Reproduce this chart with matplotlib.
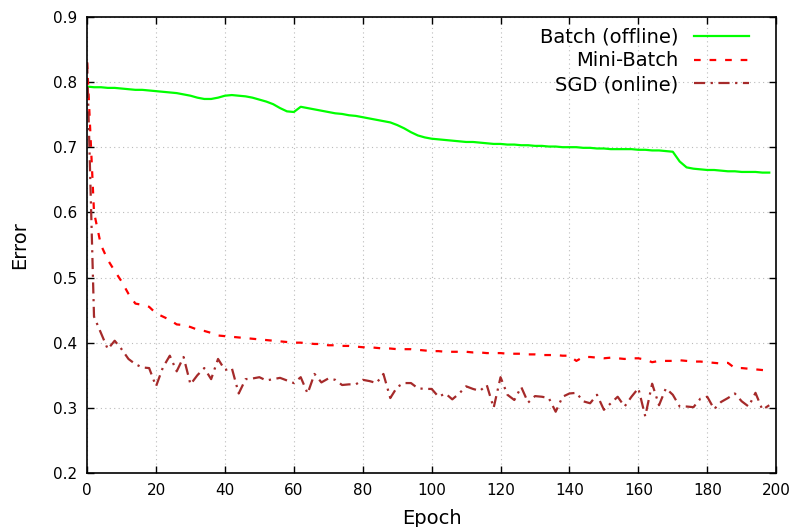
import matplotlib
matplotlib.use("Agg")
import matplotlib.pyplot as plt
import numpy as np

# epochs sampled every 2
epochs = np.arange(0, 200, 2)

batch = [0.793, 0.792, 0.792, 0.791, 0.791, 0.790, 0.789, 0.788, 0.788, 0.787,
         0.786, 0.785, 0.784, 0.783, 0.781, 0.779, 0.776, 0.774, 0.774, 0.776,
         0.779, 0.780, 0.779, 0.778, 0.776, 0.773, 0.770, 0.766, 0.760, 0.755,
         0.754, 0.762, 0.760, 0.758, 0.756, 0.754, 0.752, 0.751, 0.749, 0.748,
         0.746, 0.744, 0.742, 0.740, 0.738, 0.734, 0.729, 0.723, 0.718, 0.715,
         0.713, 0.712, 0.711, 0.710, 0.709, 0.708, 0.708, 0.707, 0.706, 0.705,
         0.705, 0.704, 0.704, 0.703, 0.703, 0.702, 0.702, 0.701, 0.701, 0.700,
         0.700, 0.700, 0.699, 0.699, 0.698, 0.698, 0.697, 0.697, 0.697, 0.697,
         0.696, 0.696, 0.695, 0.695, 0.694, 0.693, 0.678, 0.669, 0.667, 0.666,
         0.665, 0.665, 0.664, 0.663, 0.663, 0.662, 0.662, 0.662, 0.661, 0.661]

minibatch = [0.830, 0.600, 0.550, 0.527, 0.510, 0.494, 0.475, 0.460, 0.458, 0.455,
             0.445, 0.440, 0.435, 0.428, 0.427, 0.424, 0.420, 0.418, 0.415, 0.411,
             0.410, 0.409, 0.408, 0.407, 0.406, 0.405, 0.404, 0.403, 0.402, 0.401,
             0.400, 0.400, 0.399, 0.398, 0.398, 0.396, 0.396, 0.395, 0.395, 0.394,
             0.393, 0.393, 0.392, 0.391, 0.391, 0.390, 0.390, 0.390, 0.389, 0.388,
             0.387, 0.387, 0.386, 0.386, 0.386, 0.386, 0.385, 0.385, 0.384, 0.384,
             0.384, 0.383, 0.383, 0.383, 0.382, 0.382, 0.381, 0.381, 0.381, 0.380,
             0.380, 0.372, 0.378, 0.378, 0.377, 0.376, 0.377, 0.376, 0.375, 0.376,
             0.376, 0.374, 0.370, 0.372, 0.372, 0.372, 0.373, 0.372, 0.371, 0.371,
             0.370, 0.369, 0.368, 0.369, 0.361, 0.361, 0.360, 0.359, 0.358, 0.357]

sgd = [0.830, 0.440, 0.415, 0.390, 0.403, 0.390, 0.375, 0.367, 0.362, 0.361,
       0.333, 0.362, 0.380, 0.356, 0.378, 0.336, 0.350, 0.361, 0.344, 0.375,
       0.358, 0.361, 0.322, 0.344, 0.345, 0.347, 0.342, 0.344, 0.346, 0.342,
       0.338, 0.347, 0.322, 0.352, 0.339, 0.345, 0.343, 0.335, 0.336, 0.336,
       0.343, 0.341, 0.338, 0.352, 0.315, 0.332, 0.338, 0.338, 0.330, 0.329,
       0.329, 0.317, 0.322, 0.313, 0.322, 0.333, 0.329, 0.326, 0.335, 0.300,
       0.347, 0.320, 0.312, 0.332, 0.308, 0.318, 0.317, 0.315, 0.294, 0.317,
       0.322, 0.323, 0.310, 0.307, 0.320, 0.297, 0.307, 0.317, 0.302, 0.317,
       0.330, 0.287, 0.337, 0.304, 0.330, 0.320, 0.302, 0.302, 0.301, 0.314,
       0.317, 0.298, 0.309, 0.315, 0.322, 0.310, 0.302, 0.323, 0.297, 0.304]

fig = plt.figure(figsize=(7.92, 5.27), dpi=100)
ax = fig.add_axes([0.110, 0.1025, 0.870, 0.8655])

ax.plot(epochs, batch, color="#00ff00", lw=1.6, label="Batch (offline)")
ax.plot(epochs, minibatch, color="#ff0000", lw=1.6, ls=(0, (3, 4)), label="Mini-Batch")
ax.plot(epochs, sgd, color="#a52a2a", lw=1.6, ls=(0, (5, 2.5, 1, 2.5)), label="SGD (online)")

ax.set_xlim(0, 200)
ax.set_ylim(0.2, 0.9)
ax.set_xticks(np.arange(0, 201, 20))
ax.set_yticks(np.arange(0.2, 0.91, 0.1))
ax.set_yticklabels(["%.1f" % v for v in np.arange(0.2, 0.91, 0.1)])
ax.tick_params(direction="in", top=True, right=True, length=5, width=1, labelsize=11, pad=7)
ax.grid(True, color="#bbbbbb", ls=(0, (1, 3)), lw=0.8)
for s in ax.spines.values():
    s.set_linewidth(1.2)

ax.set_xlabel("Epoch", fontsize=14, labelpad=8)
ax.set_ylabel("Error", fontsize=14, labelpad=17)

leg = ax.legend(loc="upper right", bbox_to_anchor=(0.981, 1.006), frameon=False,
                markerfirst=False, fontsize=14, handlelength=2.85,
                labelspacing=0.24, borderaxespad=0.3)

plt.savefig("out.png")
